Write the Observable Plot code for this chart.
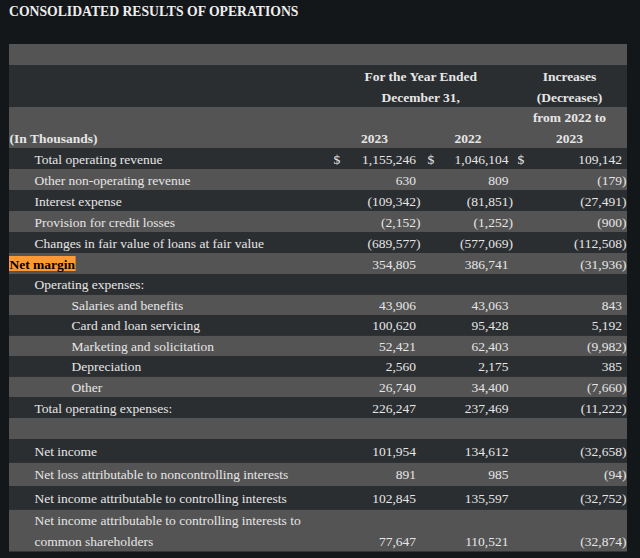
<!DOCTYPE html>
<html><head><meta charset="utf-8">
<script src="https://cdn.jsdelivr.net/npm/d3@7"></script>
<script src="https://cdn.jsdelivr.net/npm/@observablehq/plot@0.6"></script>
<style>
body{margin:0;background:#14171a;width:640px;height:558px;overflow:hidden;font-family:"Liberation Serif",serif;}
#title{height:44px;box-sizing:border-box;padding:4px 0 0 9px;color:#eeeeee;font-weight:bold;font-size:13.7px;letter-spacing:0;}
#chart svg{display:block;}
</style></head><body>
<div id="title">CONSOLIDATED RESULTS OF OPERATIONS</div>
<div id="chart"></div>
<script>
// ---- data ----
const labels = [
  "Total operating revenue",
  "Other non-operating revenue",
  "Interest expense",
  "Provision for credit losses",
  "Changes in fair value of loans at fair value",
  "Net margin",
  "Operating expenses:",
  "Salaries and benefits",
  "Card and loan servicing",
  "Marketing and solicitation",
  "Depreciation",
  "Other",
  "Total operating expenses:",
  "",
  "Net income",
  "Net loss attributable to noncontrolling interests",
  "Net income attributable to controlling interests",
  "Net income attributable to controlling interests to\ncommon shareholders"
];
const levels = [1,1,1,1,1,0,1,2,2,2,2,2,1,1,1,1,1,1];
const v2023 = [1155246,630,-109342,-2152,-689577,354805,null,43906,100620,52421,2560,26740,226247,null,101954,891,102845,77647];
const v2022 = [1046104,809,-81851,-1252,-577069,386741,null,43063,95428,62403,2175,34400,237469,null,134612,985,135597,110521];
const change = [109142,-179,-27491,-900,-112508,-31936,null,843,5192,-9982,385,-7660,-11222,null,-32658,-94,-32752,-32874];
const yearLabels = ["2023","2022"];
const headPeriod = "For the Year Ended\nDecember 31,";
const headChange1 = "Increases\n(Decreases)";
const headChange2 = "from 2022 to\n2023";
const headUnits = "(In Thousands)";
const highlightRow = "Net margin";

// ---- layout ----
const W = 640, H = 514;
const headerHeights = [21, 42, 41];
const rowHeights = [21,21,21,21,21,21,20.5,20.5,20.5,20.5,20.5,20.5,21,21,23.5,23.5,23.5,42];
const allHeights = headerHeights.concat(rowHeights);
const tops = [0]; allHeights.forEach((h,i)=>tops.push(tops[i]+h));
const bands = allHeights.map((h,i)=>({i, top:tops[i], bottom:tops[i]+h, h}));
const tableL = 9, tableR = 627;
const labelX = [9, 34, 71];
const colRight = [415.5, 508, 621.5];
const colCenter = [374, 467.5, 569];
const dollarX = [333, 427, 517];
const parenW = 4.4;
const FS = 13.5, LH = 21/13.5;
const DY = -2;
const txt = "#e6e6e6";
const font = "Liberation Serif";

const rows = labels.map((label,k)=>{
  const b = bands[k+3];
  const vy = b.h > 30 ? b.bottom - 10.5 : (b.top + b.bottom)/2;
  return {label, level: levels[k], y: (b.top+b.bottom)/2, vy, top:b.top, bottom:b.bottom,
          vals:[v2023[k], v2022[k], change[k]]};
});
const fmt = d3.format(",");
const cells = [];
rows.forEach(r => r.vals.forEach((v,c)=>{ if (v!=null) cells.push({c, v, y:r.vy, neg:v<0,
   text: v<0 ? "("+fmt(-v)+")" : fmt(v)}); }));
const dollars = [0,1,2].map(c=>({x:dollarX[c], y:rows[0].vy}));

// measure highlight text
const ctx = document.createElement("canvas").getContext("2d");
ctx.font = `bold ${FS}px "${font}"`;
const hl = rows.filter(r=>r.label===highlightRow).map(r=>({x1:labelX[0], x2:labelX[0]+ctx.measureText(r.label).width+1, y1:r.top+3, y2:r.bottom-3, y:r.y, label:r.label}));

const h1 = bands[1], h2 = bands[2];
const headers = [
  {x: (colCenter[0]+colCenter[1])/2 - 0.5, y:(h1.top+h1.bottom)/2, t: headPeriod, a:"middle"},
  {x: colCenter[2], y:(h1.top+h1.bottom)/2, t: headChange1, a:"middle"},
  {x: colCenter[2], y:(h2.top+h2.bottom)/2, t: headChange2, a:"middle"},
  {x: labelX[0], y:h2.bottom-10.5, t: headUnits, a:"start"},
  {x: colCenter[0], y:h2.bottom-10.5, t: yearLabels[0], a:"middle"},
  {x: colCenter[1], y:h2.bottom-10.5, t: yearLabels[1], a:"middle"}
];

const common = {fontSize: FS, fontFamily: font, lineHeight: LH, dy: DY};
const plot = Plot.plot({
  width: W, height: H, margin: 0,
  x: {domain:[0,W], range:[0,W], axis:null},
  y: {domain:[0,H], range:[0,H], axis:null},
  style: {background:"transparent", fontFamily: font},
  marks: [
    Plot.rect(bands.filter(b=>b.i%2===0), {x1: tableL, x2: tableR, y1:"top", y2:"bottom", fill:"#545454"}),
    Plot.rect(bands.filter(b=>b.i%2===1), {x1: tableL, x2: tableR, y1:"top", y2:"bottom", fill:"#2b2e31"}),
    Plot.rect(hl, {x1:"x1", x2:"x2", y1:"y1", y2:"y2", fill:"#ff9a33"}),
    Plot.text(headers.filter(d=>d.a==="start"), {x:"x", y:"y", text:"t", textAnchor:"start", fill:txt, fontWeight:"bold", ...common}),
    Plot.text(headers.filter(d=>d.a==="middle"), {x:"x", y:"y", text:"t", textAnchor:"middle", fill:txt, fontWeight:"bold", ...common}),
    Plot.text(rows.filter(r=>r.label!==highlightRow), {x: r=>labelX[r.level], y:"y", text:"label", textAnchor:"start", fill:txt, ...common}),
    Plot.text(hl, {x:"x1", y:"y", text:"label", textAnchor:"start", fill:"#000", fontWeight:"bold", ...common}),
    Plot.text(cells.filter(d=>!d.neg), {x: d=>colRight[d.c], y:"y", text:"text", textAnchor:"end", fill:txt, ...common}),
    Plot.text(cells.filter(d=>d.neg), {x: d=>colRight[d.c], y:"y", text:"text", textAnchor:"end", fill:txt, ...common, dx: parenW}),
    Plot.text(dollars, {x:"x", y:"y", text: ()=>"$", textAnchor:"start", fill:txt, ...common})
  ]
});
document.getElementById("chart").appendChild(plot);
</script>
</body></html>
